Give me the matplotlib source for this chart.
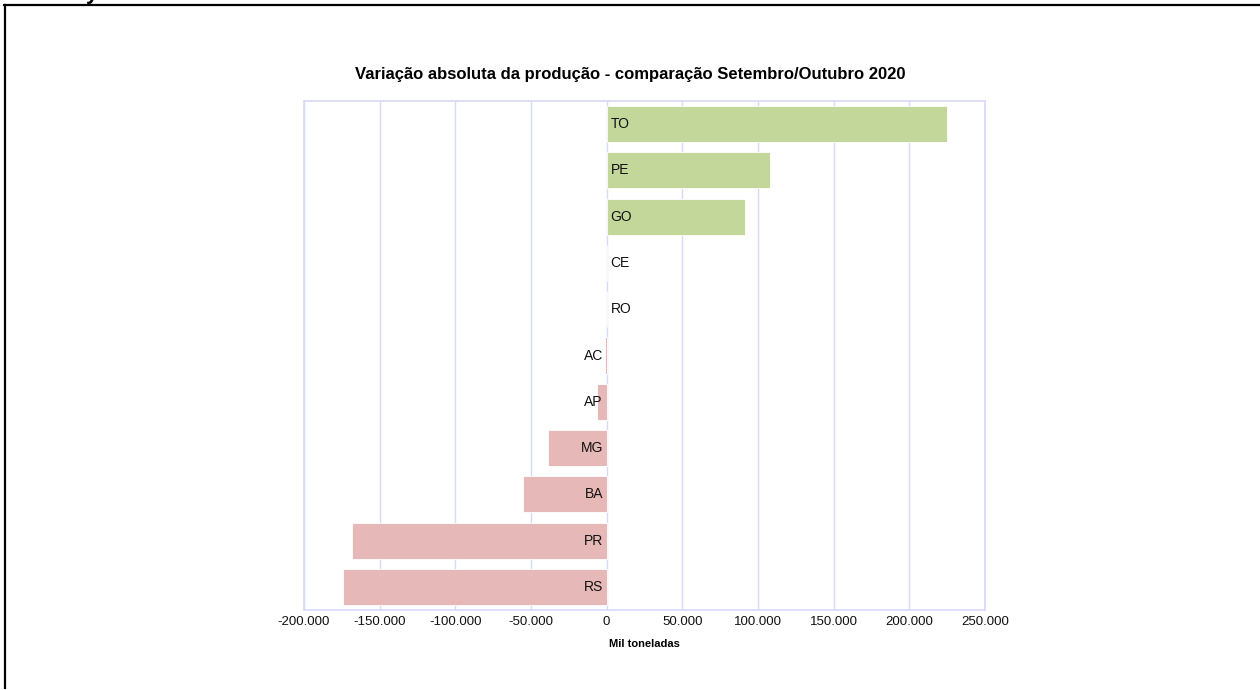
import matplotlib
matplotlib.use("Agg")
import matplotlib.pyplot as plt
from matplotlib.lines import Line2D
from matplotlib.ticker import FuncFormatter
from matplotlib import font_manager
import numpy as np

# data (mil toneladas), top to bottom
states = ["TO", "PE", "GO", "CE", "RO", "AC", "AP", "MG", "BA", "PR", "RS"]
variation = [225000, 108000, 91500, 0, 0, -1200, -6500, -39000, -55000, -168000, -174000]
ticks = [-200000, -150000, -100000, -50000, 0, 50000, 100000, 150000, 200000, 250000]

names = {f.name for f in font_manager.fontManager.ttflist}
narrow = "Liberation Sans Narrow" if "Liberation Sans Narrow" in names else "Liberation Sans"
plt.rcParams["font.family"] = ["Liberation Sans", "DejaVu Sans"]

green = "#c4d79b"
pink = "#e6b8b7"
lav = "#d8d8fa"

fig = plt.figure(figsize=(12.6, 6.9), dpi=100)
ax = fig.add_axes([304 / 1260, 1 - 610 / 690, 681 / 1260, 509 / 690])

y = np.arange(len(states))
colors = [green if v > 0 else pink for v in variation]
ax.barh(y, variation, height=0.78, color=colors, edgecolor="white", linewidth=0.6, zorder=2)

# state labels next to the zero line
for yi, v, s in zip(y, variation, states):
    if v < 0:
        ax.text(-2500, yi, s, ha="right", va="center", fontsize=10, color="#111111", zorder=3)
    else:
        ax.text(2500, yi, s, ha="left", va="center", fontsize=10, color="#111111", zorder=3)

ax.set_xlim(-200000, 250000)
ax.set_ylim(len(states) - 0.5, -0.5)
ax.set_xticks(ticks)
ax.xaxis.set_major_formatter(FuncFormatter(lambda v, p: f"{int(v):,}".replace(",", ".")))
ax.set_yticks([])
ax.tick_params(axis="x", length=0, pad=4, labelsize=9.5, labelcolor="#111111")
for lbl in ax.get_xticklabels():
    lbl.set_fontfamily(narrow)
ax.grid(axis="x", color=lav, linewidth=1, zorder=0)
for sp in ax.spines.values():
    sp.set_color(lav)
    sp.set_linewidth(1.2)

fig.text(630 / 1260, 1 - 75 / 690, "Variação absoluta da produção - comparação Setembro/Outubro 2020",
         fontsize=12, fontweight="bold", ha="center", va="center")
ax.set_xlabel("Mil toneladas", fontsize=8, fontweight="bold", labelpad=8, fontfamily=narrow)

# outer frame and clipped heading
fig.add_artist(Line2D([4 / 1260, 1.0], [1 - 5 / 690, 1 - 5 / 690], color="black", linewidth=1.6))
fig.add_artist(Line2D([5 / 1260, 5 / 1260], [1 - 5 / 690, 1 - 688 / 690], color="black", linewidth=1.6))
fig.text(92 / 1260, 1 + 1 / 690, "y", fontsize=16, fontweight="bold", ha="center", va="baseline")

fig.savefig("out.png", dpi=100)
